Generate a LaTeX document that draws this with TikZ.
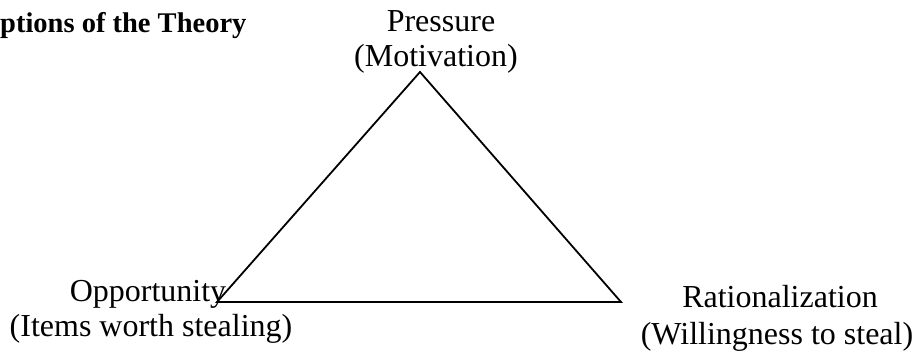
\documentclass[tikz,border=0pt]{standalone}
\usepackage{fontspec}
\setmainfont{Liberation Serif}
\begin{document}
\begin{tikzpicture}[x=1pt,y=-1pt,
  lbl/.style={inner sep=0pt,anchor=base,font=\fontsize{32}{37}\selectfont},
  ttl/.style={inner sep=0pt,anchor=base west,font=\fontsize{28.5}{33}\selectfont\bfseries},
  edge/.style={line width=1.8pt,line join=miter}]
\useasboundingbox (0,0) rectangle (921,352);
\coordinate (P) at (420,72);
\coordinate (O) at (217,302);
\coordinate (R) at (621,302);
\draw[edge] (P) -- (O) -- (R) -- cycle;
\node[ttl] (title) at (0,33) {ptions of the Theory};
\node[lbl] (p1) at (441,32) {Pressure};
\node[lbl] (p2) at (436,67) {(Motivation)};
\node[lbl] (o1) at (148,302) {Opportunity};
\node[lbl] (o2) at (151,337) {(Items worth stealing)};
\node[lbl] (r1) at (780,308) {Rationalization};
\node[lbl] (r2) at (777,345) {(Willingness to steal)};
\end{tikzpicture}
\end{document}
